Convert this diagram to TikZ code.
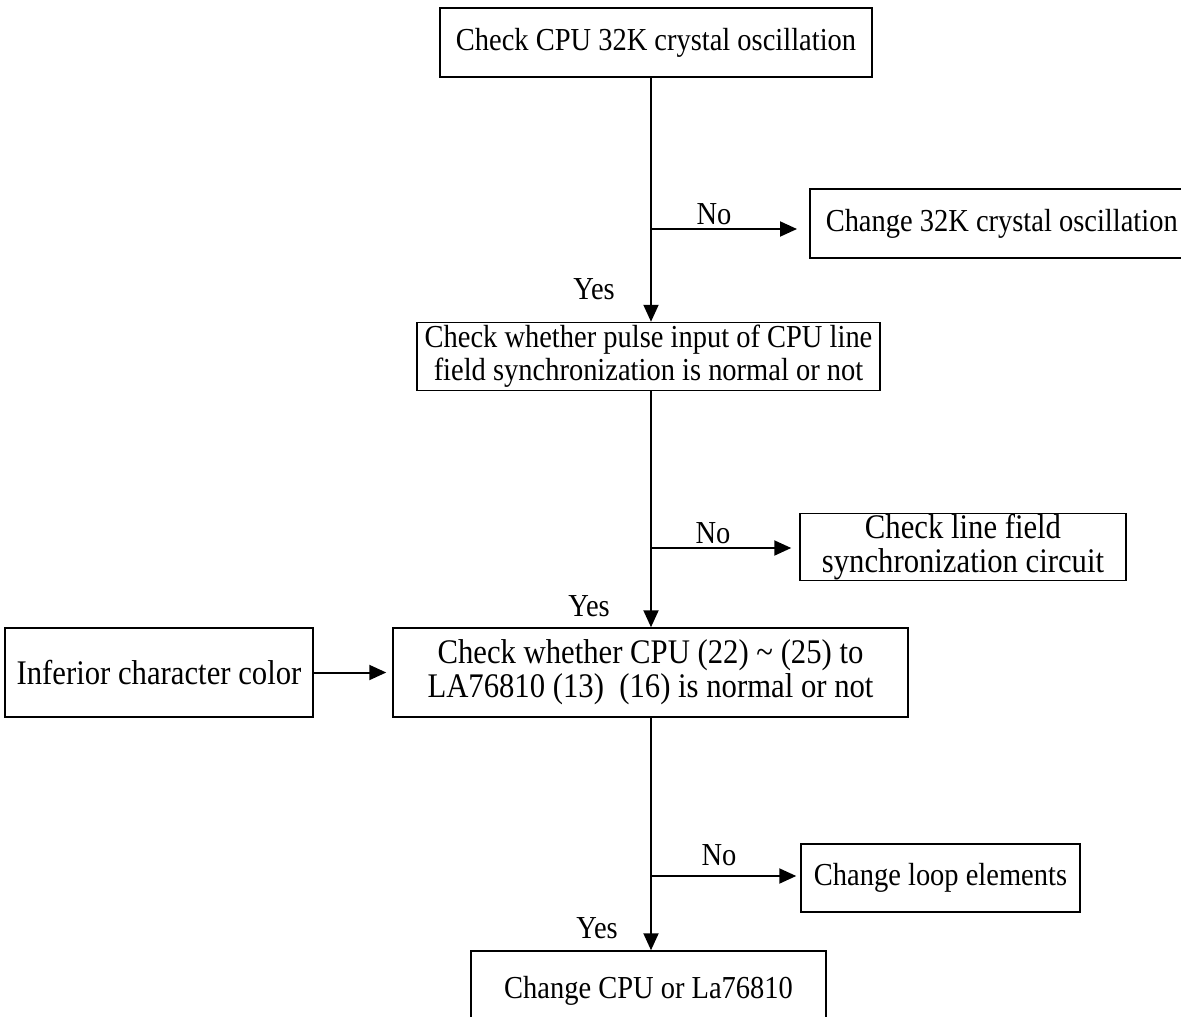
\documentclass[tikz,border=0pt]{standalone}
\usepackage{fontspec}
\setmainfont{Liberation Serif}[FakeStretch=0.89]
\usetikzlibrary{arrows.meta,calc}
\begin{document}
\begin{tikzpicture}[x=1pt,y=-1pt,
  box/.style={draw, line width=1.5pt, inner sep=0pt, align=center,
    font=\fontsize{32}{33}\selectfont},
  bigbox/.style={box, font=\fontsize{34.5}{34}\selectfont},
  lbl/.style={inner sep=0pt, font=\fontsize{32}{33}\selectfont},
  flow/.style={line width=2pt, -{Triangle[length=17pt,width=15pt]}},
  plain/.style={line width=2pt}]
\useasboundingbox (0,0) rectangle (1181,1017);
\clip (0,0) rectangle (1181,1017);
% boxes
\node[box, minimum width=432pt, minimum height=69pt] (top) at (656,42.5)
  {Check CPU 32K crystal oscillation};
\node[box, anchor=west, inner xsep=16pt, minimum height=69pt] (b2) at (809,223.5)
  {\makebox[420pt][l]{Change 32K crystal oscillation}};
\node[box, minimum width=463pt, minimum height=68pt] (b3) at (648.5,356.5)
  {Check whether pulse input of CPU line\\field synchronization is normal or not};
\node[bigbox, minimum width=326pt, minimum height=67pt] (b4) at (963,547)
  {Check line field\\synchronization circuit};
\node[bigbox, minimum width=515pt, minimum height=89pt] (b5) at (650.5,672.5)
  {Check whether CPU (22) \textasciitilde{} (25) to\\LA76810 (13)\ \ (16) is normal or not};
\node[bigbox, minimum width=308pt, minimum height=89pt] (inf) at (159,672.5)
  {Inferior character color};
\node[box, minimum width=279pt, minimum height=68pt] (b6) at (940.5,878)
  {Change loop elements};
\node[box, minimum width=355pt, minimum height=79pt] (b7) at (648.5,990.5)
  {Change CPU or La76810};
% spine
\coordinate (j1) at (651,229);
\coordinate (j2) at (651,548);
\coordinate (j3) at (651,876);
\draw[plain] (j1 |- top.south) -- (j1);
\draw[flow] (j1) -- (j1 |- b3.north);
\draw[flow] (j1) -- ([xshift=-12pt]j1 -| b2.west);
\draw[plain] (j2 |- b3.south) -- (j2);
\draw[flow] (j2) -- (j2 |- b5.north);
\draw[flow] (j2) -- ([xshift=-8pt]j2 -| b4.west);
\draw[plain] (j3 |- b5.south) -- (j3);
\draw[flow] (j3) -- (j3 |- b7.north);
\draw[flow] (j3) -- ([xshift=-4pt]j3 -| b6.west);
\draw[flow] (inf.east) -- ([xshift=-6pt]b5.west);
% labels
\node[lbl] (no1) at (714,214) {No};
\node[lbl] (yes1) at (594,289) {Yes};
\node[lbl] (no2) at (713,533) {No};
\node[lbl] (yes2) at (589,606) {Yes};
\node[lbl] (no3) at (719,855) {No};
\node[lbl] (yes3) at (597,928) {Yes};
\end{tikzpicture}
\end{document}
